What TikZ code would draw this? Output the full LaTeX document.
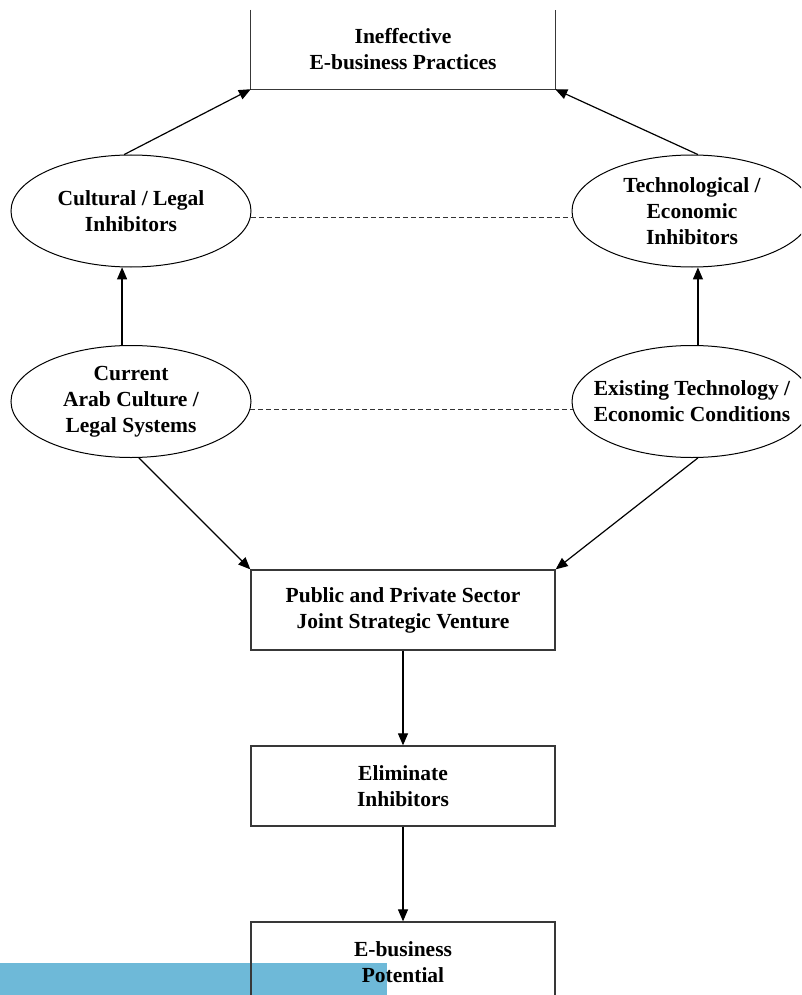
\documentclass[tikz,border=0pt]{standalone}
\usepackage{fontspec}
\setmainfont{Liberation Serif}
\usetikzlibrary{arrows.meta,shapes.geometric}
\definecolor{barblue}{RGB}{110,185,216}
\begin{document}
\begin{tikzpicture}[x=1pt,y=-1pt,
  txt/.style={font=\fontsize{21.5}{26}\selectfont\bfseries, align=center, inner sep=0pt},
  boxnode/.style={txt, rectangle, minimum width=304pt, minimum height=80pt},
  boxline/.style={draw=black!78, line width=1.3pt},
  ell/.style={txt, ellipse, draw, line width=1pt, minimum width=240pt, minimum height=112pt, inner xsep=-16pt},
  arr/.style={line width=1.2pt, -{Triangle[length=12pt,width=10pt]}},
  dashln/.style={line width=1pt, dash pattern=on 5pt off 3pt, draw=black!80}
]
\clip (0,0) rectangle (801,995);
\fill[white] (0,0) rectangle (801,995);
\fill[barblue] (0,963) rectangle (387,995);

% boxes
\node[boxnode, minimum height=79pt] (top) at (403,49.5) {Ineffective\\E-business Practices};
\draw[boxline] (top.north west) -- (top.south west) -- (top.south east) -- (top.north east);
\node[boxnode, boxline] (pub) at (403,610) {Public and Private Sector\\Joint Strategic Venture};
\node[boxnode, boxline] (eli) at (403,786) {Eliminate\\Inhibitors};
\node[boxnode, boxline] (pot) at (403,962) {E-business\\Potential};

% ellipses
\node[ell] (cul) at (131,211) {Cultural / Legal\\Inhibitors};
\node[ell] (tec) at (692,211) {Technological /\\Economic\\Inhibitors};
\node[ell] (cur) at (131,401.5) {Current\\Arab Culture /\\Legal Systems};
\node[ell] (exi) at (692,401.5) {Existing Technology /\\Economic Conditions};

% connectors
\draw[arr] (cul.97.6) -- (top.south west);
\draw[arr] (tec.84) -- (top.south east);
\draw[arr] (cur.99) -- (cul.261.5);
\draw[arr] (exi.84) -- (tec.-84);
\draw[dashln] (cul.-3.6) -- (tec.183.6);
\draw[dashln] (cur.-4.1) -- (exi.184.1);
\draw[arr] (cur.-82.8) -- (pub.north west);
\draw[arr] (exi.-84) -- (pub.north east);
\draw[arr] (pub.south) -- (eli.north);
\draw[arr] (eli.south) -- (pot.north);
\end{tikzpicture}
\end{document}
